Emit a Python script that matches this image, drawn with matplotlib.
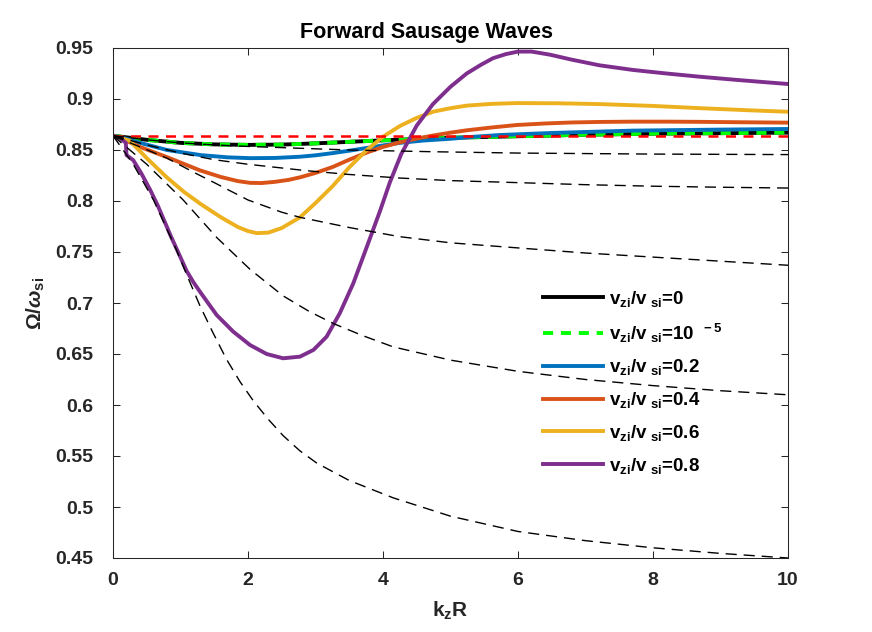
import matplotlib
matplotlib.use("Agg")
import matplotlib.pyplot as plt

# --- data ---
x_v0 = [0, 0.25, 0.5, 1, 1.5, 2, 2.5, 3, 3.5, 4, 5, 6, 7, 8, 9, 10]
y_v0 = [0.864, 0.862, 0.860, 0.857, 0.8555, 0.855, 0.8553, 0.8565, 0.858, 0.8595,
        0.862, 0.8635, 0.865, 0.866, 0.8665, 0.867]

x_v1e5 = [0, 0.25, 0.5, 1, 1.5, 2, 2.5, 3, 3.5, 4, 5, 6, 7, 8, 9, 10]
y_v1e5 = [0.864, 0.862, 0.860, 0.857, 0.8555, 0.855, 0.8553, 0.8565, 0.858, 0.8595,
          0.862, 0.8635, 0.865, 0.866, 0.8665, 0.867]

x_v02 = [0, 0.2, 0.4, 0.8, 1.3, 1.7, 2.03, 2.4, 2.77, 3.0, 3.26, 3.5, 3.76, 4.0,
         4.25, 4.6, 5, 5.35, 5.73, 6.5, 7.7, 9, 10]
y_v02 = [0.864, 0.861, 0.857, 0.850, 0.845, 0.8428, 0.842, 0.8422, 0.8434, 0.8448,
         0.847, 0.8493, 0.852, 0.8545, 0.857, 0.8593, 0.861, 0.863, 0.8647, 0.8667,
         0.869, 0.870, 0.8706]

x_v04 = [0, 0.2, 0.4, 0.8, 1.29, 1.6, 1.85, 2.03, 2.2, 2.4, 2.6, 2.77, 3.0, 3.26,
         3.5, 3.76, 4.0, 4.25, 4.5, 4.74, 5.0, 5.24, 5.6, 5.98, 6.4, 6.8, 7.2, 7.7,
         8.2, 8.7, 9.3, 10]
y_v04 = [0.864, 0.859, 0.853, 0.843, 0.830, 0.8235, 0.8195, 0.8178, 0.8176, 0.8188,
         0.8207, 0.8232, 0.8275, 0.8335, 0.8405, 0.8475, 0.853, 0.8575, 0.8612,
         0.8642, 0.8670, 0.8693, 0.8720, 0.8745, 0.8760, 0.8770, 0.8775, 0.8778,
         0.8778, 0.8776, 0.8772, 0.8768]

x_v06 = [0, 0.25, 0.5, 0.8, 1.05, 1.3, 1.6, 1.85, 2.0, 2.13, 2.3, 2.5, 2.77, 3.0,
         3.26, 3.5, 3.76, 4.0, 4.25, 4.5, 4.74, 5.0, 5.24, 5.6, 5.98, 6.6, 7.21,
         8.0, 8.7, 9.4, 10]
y_v06 = [0.864, 0.859, 0.842, 0.823, 0.809, 0.797, 0.784, 0.7745, 0.7705, 0.7685,
         0.769, 0.7735, 0.784, 0.798, 0.815, 0.833, 0.850, 0.863, 0.8735, 0.8815,
         0.8875, 0.891, 0.8935, 0.8952, 0.896, 0.8958, 0.895, 0.8932, 0.891, 0.889,
         0.8875]

x_v08 = [0, 0.1, 0.19, 0.2, 0.3, 0.42, 0.55, 0.66, 0.77, 0.86, 0.943, 1.09, 1.19,
         1.289, 1.536, 1.78, 2.03, 2.277, 2.52, 2.77, 2.97, 3.165, 3.36, 3.56, 3.76,
         3.96, 4.1, 4.27, 4.5, 4.74, 5.0, 5.24, 5.45, 5.63, 5.82, 6.0, 6.2, 6.47,
         6.8, 7.21, 7.7, 8.2, 8.7, 9.19, 9.6, 10]
y_v08 = [0.864, 0.862, 0.857, 0.845, 0.840, 0.827, 0.811, 0.796, 0.779, 0.765,
         0.753, 0.7315, 0.7205, 0.711, 0.6882, 0.672, 0.6588, 0.650, 0.6458, 0.6474,
         0.654, 0.667, 0.690, 0.7193, 0.755, 0.791, 0.818, 0.846, 0.874, 0.895,
         0.912, 0.925, 0.9335, 0.940, 0.944, 0.9465, 0.9465, 0.9435, 0.9385, 0.933,
         0.9285, 0.925, 0.9218, 0.919, 0.9168, 0.9147]

x_red = [0, 10]
y_red = [0.8637, 0.8637]

# thin black dashed curves
x_d1 = [0, 0.5, 1, 1.5, 2, 2.77, 3.5, 4.74, 6, 8, 10]
y_d1 = [0.864, 0.860, 0.857, 0.855, 0.8535, 0.8517, 0.850, 0.8483, 0.847, 0.846, 0.8455]

x_d2 = [0, 0.5, 1, 1.5, 2, 2.87, 3.5, 4.25, 5, 6, 7, 8, 9, 10]
y_d2 = [0.864, 0.855, 0.847, 0.8405, 0.836, 0.8297, 0.826, 0.8225, 0.820, 0.818,
        0.816, 0.8145, 0.8135, 0.8127]

x_d3 = [0, 0.4, 0.8, 1.2, 1.5, 2.0, 2.5, 2.77, 3.5, 4.25, 5, 6, 7, 8, 9, 10]
y_d3 = [0.864, 0.853, 0.842, 0.828, 0.818, 0.801, 0.789, 0.784, 0.774, 0.765,
        0.759, 0.754, 0.749, 0.745, 0.741, 0.737]

x_d4 = [0, 0.5, 1.04, 1.54, 2.03, 2.52, 2.9, 3.26, 3.7, 4.15, 5, 6, 7, 8, 9, 10]
y_d4 = [0.864, 0.836, 0.801, 0.764, 0.733, 0.707, 0.692, 0.680, 0.668, 0.657,
        0.644, 0.633, 0.625, 0.619, 0.614, 0.610]

x_d5 = [0, 0.3, 0.6, 0.94, 1.1, 1.29, 1.48, 1.68, 1.88, 2.08, 2.3, 2.52, 2.77, 3.02,
        3.5, 4.15, 5, 6, 7, 8, 9, 10]
y_d5 = [0.864, 0.836, 0.801, 0.752, 0.7265, 0.697, 0.671, 0.645, 0.623, 0.604,
        0.586, 0.570, 0.555, 0.543, 0.526, 0.509, 0.491, 0.476, 0.467, 0.460,
        0.4545, 0.450]

x_ticks = [0, 2, 4, 6, 8, 10]
y_ticks = [0.45, 0.5, 0.55, 0.6, 0.65, 0.7, 0.75, 0.8, 0.85, 0.9, 0.95]
y_tick_labels = ["0.45", "0.5", "0.55", "0.6", "0.65", "0.7", "0.75", "0.8",
                 "0.85", "0.9", "0.95"]

plt.rcParams["font.family"] = ["Liberation Sans", "DejaVu Sans"]
plt.rcParams["font.weight"] = "bold"
plt.rcParams["axes.labelweight"] = "bold"
plt.rcParams["mathtext.fontset"] = "custom"
plt.rcParams["mathtext.rm"] = "Liberation Sans:bold"
plt.rcParams["mathtext.bf"] = "Liberation Sans:bold"
plt.rcParams["mathtext.it"] = "Liberation Sans:italic:bold"
plt.rcParams["mathtext.sf"] = "Liberation Sans:bold"

dark = "#262626"

fig = plt.figure(figsize=(8.72, 6.32), dpi=100)
ax = fig.add_axes([113 / 872, 1 - 558 / 632, 675 / 872, 510 / 632])

sub = r"v$_{\mathrm{zi}}$/v$_{\mathrm{\ si}}$="
lw = 2.8
ax.plot(x_v0, y_v0, color="black", linewidth=lw, label=sub + "0")
ax.plot(x_v1e5, y_v1e5, color="#00FF00", linewidth=lw, linestyle=(0, (2.6, 2.0)),
        label=sub + r"10$^{\mathrm{\ \ -5}}$")
ax.plot(x_v02, y_v02, color="#0072BD", linewidth=lw, label=sub + "0.2")
ax.plot(x_v04, y_v04, color="#D95319", linewidth=lw, label=sub + "0.4")
ax.plot(x_v06, y_v06, color="#EDB120", linewidth=lw, label=sub + "0.6")
ax.plot(x_v08, y_v08, color="#7E2F8E", linewidth=lw, label=sub + "0.8")

# red reference line and thin dashed curves on top
ax.plot(x_red, y_red, color="#FF0000", linewidth=1.8, linestyle=(0, (4, 3)))
for xd, yd in [(x_d1, y_d1), (x_d2, y_d2), (x_d3, y_d3), (x_d4, y_d4), (x_d5, y_d5)]:
    ax.plot(xd, yd, color="black", linewidth=1.0, linestyle=(0, (8, 5)))

ax.set_xlim(0, 10)
ax.set_ylim(0.45, 0.95)
ax.set_xticks(x_ticks)
ax.set_yticks(y_ticks)
ax.set_yticklabels(y_tick_labels)

ax.tick_params(direction="in", length=5, width=0.75, colors=dark,
               top=True, right=True, labelsize=14)
ax.tick_params(axis="x", pad=10)
ax.tick_params(axis="y", pad=14)
for sp in ax.spines.values():
    sp.set_color(dark)
    sp.set_linewidth(0.75)

ax.set_title("Forward Sausage Waves", fontsize=15.5, fontweight="bold",
             x=0.465, pad=7)
ax.set_xlabel(r"k$_{\mathrm{z}}$R", fontsize=15, fontweight="bold", color=dark,
              labelpad=8)
ax.set_ylabel(r"$\mathrm{\Omega/}\omega_{\mathrm{si}}$", fontsize=15,
              fontweight="bold", color=dark, labelpad=6)

ax.legend(loc="upper left", bbox_to_anchor=(0.637, 0.528), frameon=False,
          borderpad=0, borderaxespad=0, handlelength=3.2, handletextpad=0.3,
          labelspacing=0.68, fontsize=13.5)

plt.savefig("out.png", dpi=100)
